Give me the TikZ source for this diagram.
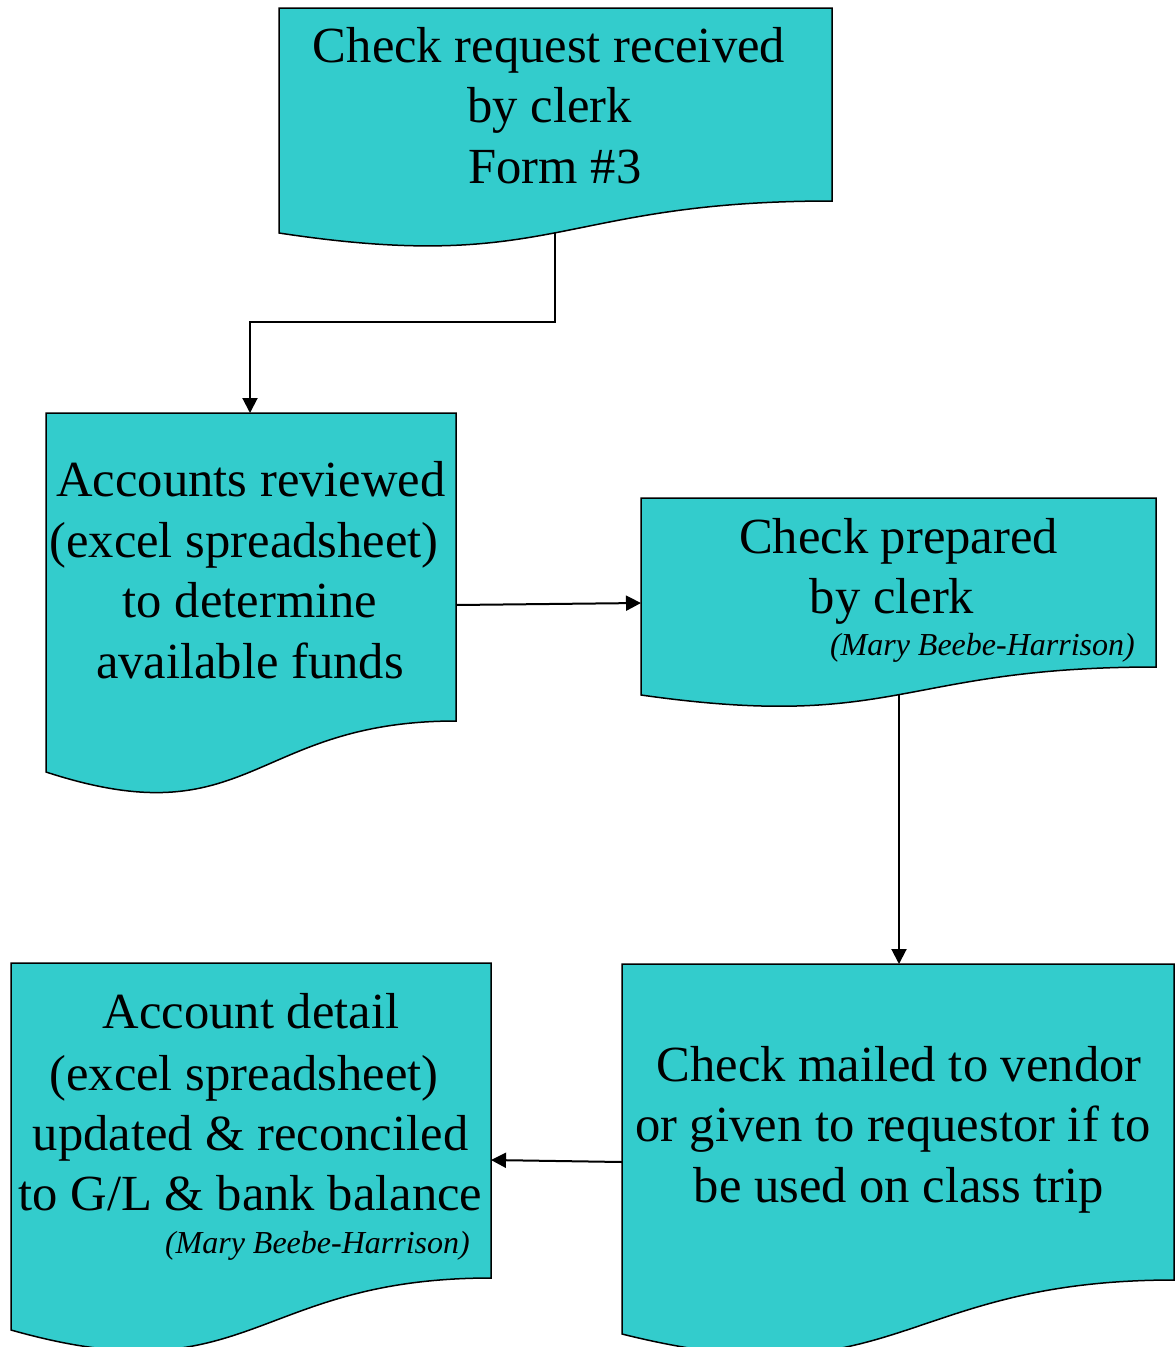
\documentclass[tikz,border=0pt]{standalone}
\usepackage{fontspec}
\setmainfont{Liberation Serif}
\usetikzlibrary{arrows.meta}
\definecolor{docfill}{HTML}{33CCCC}
\tikzset{
  docbox/.style={draw=black, fill=docfill, line width=1.5pt},
  txt/.style={anchor=base, inner sep=0pt, font=\fontsize{50.6}{60}\selectfont},
  who/.style={anchor=base east, inner sep=0pt, font=\fontsize{32}{38}\selectfont\itshape},
  conn/.style={draw=black, line width=2pt, -{Triangle[length=15pt,width=15pt]}}
}
\begin{document}
\begin{tikzpicture}[x=1pt,y=-1pt]
\useasboundingbox (0,0) rectangle (1175,1347);
% Box 1
\draw[docbox] (279,8) -- (832,8) -- (832,201) .. controls (555.5,201) and (555.5,275) .. (279,233) -- cycle;
\coordinate (b1s) at (555,233);
\node[txt] (t1a) at (549,62) {Check request received};
\node[txt] (t1b) at (549.5,122) {by clerk};
\node[txt] (t1c) at (555,183) {Form \#3};
% Box 2
\draw[docbox] (46,413) -- (456,413) -- (456,721) .. controls (251,721) and (251,839) .. (46,772) -- cycle;
\coordinate (b2n) at (250,413);
\coordinate (b2e) at (456,605);
\node[txt] (t2a) at (251,496) {Accounts reviewed};
\node[txt] (t2b) at (244,557) {(excel spreadsheet)};
\node[txt] (t2c) at (250,617) {to determine};
\node[txt] (t2d) at (250,678) {available funds};
% Box 3
\draw[docbox] (641,498) -- (1156,498) -- (1156,667) .. controls (898.5,667) and (898.5,731.6) .. (641,695) -- cycle;
\coordinate (b3w) at (641,603);
\coordinate (b3s) at (899,695);
\node[txt] (t3a) at (898.5,553) {Check prepared};
\node[txt] (t3b) at (892,613) {by clerk};
\node[who] (t3c) at (1135,655) {(Mary Beebe-Harrison)};
% Box 4
\draw[docbox] (11,963) -- (491,963) -- (491,1278) .. controls (251,1278) and (251,1398) .. (11,1330) -- cycle;
\coordinate (b4e) at (491,1160);
\node[txt] (t4a) at (251,1028) {Account detail};
\node[txt] (t4b) at (244,1090) {(excel spreadsheet)};
\node[txt] (t4c) at (250.5,1150) {updated \& reconciled};
\node[txt] (t4d) at (250.5,1210) {to G/L \& bank balance};
\node[who] (t4e) at (470,1253) {(Mary Beebe-Harrison)};
% Box 5
\draw[docbox] (622,964) -- (1174,964) -- (1174,1280) .. controls (898,1280) and (898,1403) .. (622,1334) -- cycle;
\coordinate (b5n) at (899,964);
\coordinate (b5w) at (622,1162);
\node[txt] (t5a) at (899,1081) {Check mailed to vendor};
\node[txt] (t5b) at (893,1141) {or given to requestor if to};
\node[txt] (t5c) at (899,1202) {be used on class trip};
% Connectors
\draw[conn] (b1s) |- (402,322) -| (b2n);
\draw[conn] (b2e) -- (b3w);
\draw[conn] (b3s) -- (b5n);
\draw[conn] (b5w) -- (b4e);
\end{tikzpicture}
\end{document}
